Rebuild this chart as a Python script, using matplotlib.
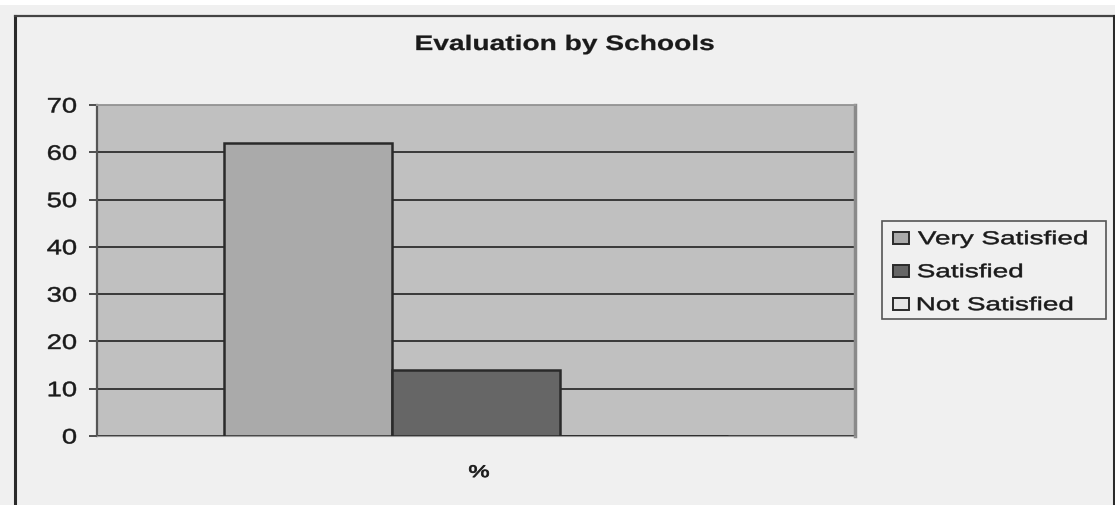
import matplotlib
matplotlib.use("Agg")
import matplotlib.pyplot as plt
from matplotlib.patches import Rectangle, PathPatch
from matplotlib.textpath import TextPath
from matplotlib.font_manager import FontProperties
from matplotlib.transforms import Affine2D

title = "Evaluation by Schools"
category = "%"
series = ["Very Satisfied", "Satisfied", "Not Satisfied"]
values = [62, 14, 0]
colors = ["#aaaaaa", "#666666", "#e6e6e6"]
yticks = [0, 10, 20, 30, 40, 50, 60, 70]

W, H = 1115, 506
DPI = 100
fig = plt.figure(figsize=(W / DPI, H / DPI), dpi=DPI)
fig.patch.set_facecolor("#f0f0f0")

CAP = 0.716  # cap height as a fraction of the em size


def wide_text(x, y, s, px, sx=1.3, ha="left", weight="normal", color="#1a1a1a", stroke=0.35):
    """Draw horizontally widened text; x, y are pixels from top-left, y is the cap centre."""
    fp = FontProperties(family="Liberation Sans", weight=weight)
    tp = TextPath((0, 0), s, size=px, prop=fp)
    bb = tp.get_extents()
    if ha == "left":
        tx = x - bb.x0 * sx
    elif ha == "right":
        tx = x - bb.x1 * sx
    else:
        tx = x - (bb.x0 + bb.width / 2) * sx
    ty = (H - y) - CAP * px / 2
    patch = PathPatch(tp, transform=Affine2D().scale(sx, 1).translate(tx, ty),
                      facecolor=color, edgecolor=color, lw=stroke)
    fig.add_artist(patch)
    return patch


def fig_rect(x, y, w, h, **kw):
    r = Rectangle((x / W, 1 - (y + h) / H), w / W, h / H,
                  transform=fig.transFigure, **kw)
    fig.add_artist(r)
    return r


# white strip along the top and the chart frame
fig_rect(0, 0, W, 6, facecolor="white", edgecolor="none", zorder=0)
fig.add_artist(plt.Line2D([15 / W, 15 / W], [0, 1 - 16.5 / H], transform=fig.transFigure,
                          color="#2a2a2a", lw=2.2))
fig.add_artist(plt.Line2D([15 / W, 1114 / W], [1 - 16.5 / H, 1 - 16.5 / H],
                          transform=fig.transFigure, color="#444444", lw=1.6))
fig.add_artist(plt.Line2D([1114 / W, 1114 / W], [0, 1 - 16.5 / H], transform=fig.transFigure,
                          color="#2a2a2a", lw=2.2))

# plot area
x0, x1, y0, y1 = 97, 855, 106, 437
ax = fig.add_axes([x0 / W, 1 - y1 / H, (x1 - x0) / W, (y1 - y0) / H])
ax.set_facecolor("#c0c0c0")

bar_w = 168 / (x1 - x0)
gap = (1 - 3 * bar_w) / 2
for i, (name, v, c) in enumerate(zip(series, values, colors)):
    ax.bar(gap + i * bar_w, v, width=bar_w, align="edge", color=c,
           edgecolor="#2a2a2a", linewidth=1.8, label=name, zorder=3)

ax.set_xlim(0, 1)
ax.set_ylim(0, 70)
ax.set_yticks(yticks)
ax.set_yticklabels([])
ax.set_xticks([])
ax.grid(axis="y", color="#2e2e2e", lw=1.3, zorder=1)
ax.tick_params(axis="y", direction="out", length=6, width=1.2, color="#333333")
ax.spines["left"].set_color("#555555")
ax.spines["left"].set_linewidth(1.6)
ax.spines["bottom"].set_color("#999999")
ax.spines["top"].set_color("#999999")
ax.spines["top"].set_linewidth(1.4)
ax.spines["right"].set_color("#8a8a8a")
ax.spines["right"].set_linewidth(2.5)
ax.set_axisbelow(True)

# y tick labels, placed through the axis scale
for t in yticks:
    _, ydisp = ax.transData.transform((0, t))
    wide_text(76, H - ydisp, str(t), 21, sx=1.3, ha="right")

# title and category label
wide_text(565, 43.5, title, 21, sx=1.34, ha="center", weight="bold", stroke=0.2)
wide_text(479, 472, category, 17, sx=1.4, ha="center", stroke=0.6)

# legend
fig_rect(882, 222, 224, 98, facecolor="#f0f0f0", edgecolor="#555555", lw=1.2)
row_y = [238.5, 271.5, 304.5]
for name, c, yy in zip(series, colors, row_y):
    fig_rect(893, yy - 6, 16, 12, facecolor=c, edgecolor="#2a2a2a", lw=1.4)
    wide_text(918, yy, name, 18.6, sx=1.5)

fig.savefig("out.png", dpi=DPI, facecolor=fig.get_facecolor())
